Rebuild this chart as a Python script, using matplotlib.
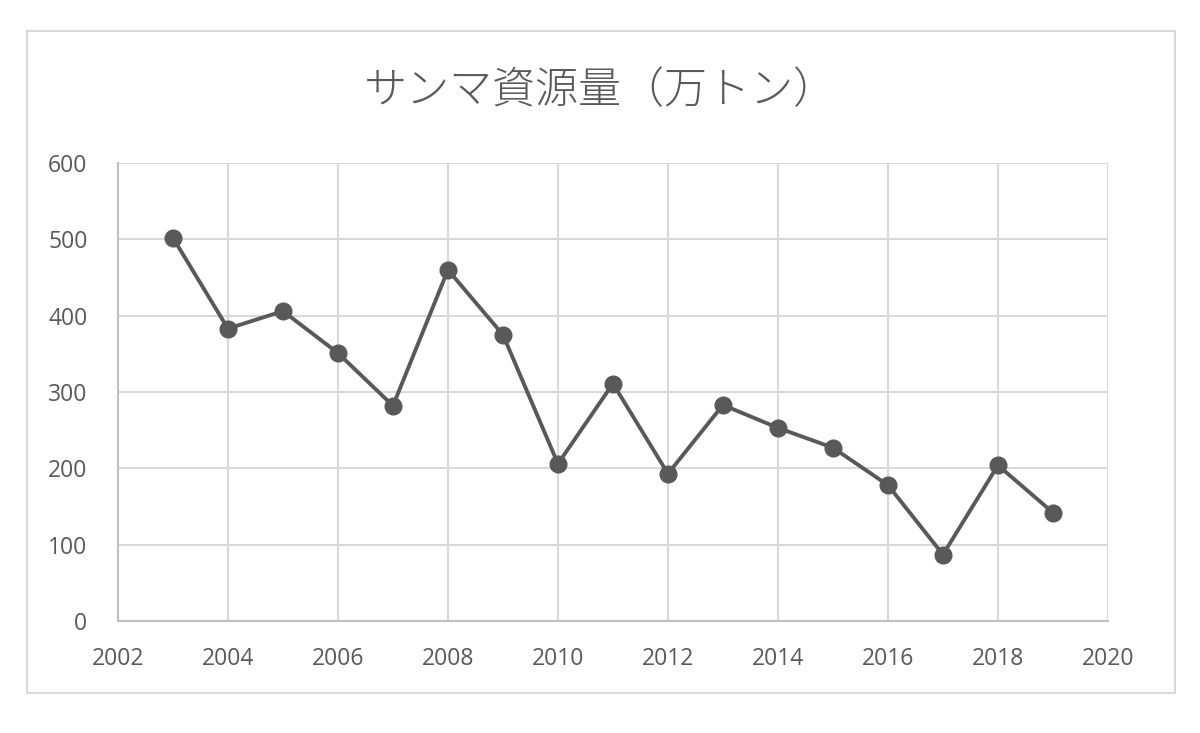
import matplotlib
matplotlib.use("Agg")
import matplotlib.pyplot as plt
from matplotlib.patches import Rectangle

# サンマ資源量 (万トン)
years = [2003, 2004, 2005, 2006, 2007, 2008, 2009, 2010, 2011,
         2012, 2013, 2014, 2015, 2016, 2017, 2018, 2019]
stock = [502, 383, 406, 351, 282, 460, 375, 206, 311,
         193, 283, 253, 227, 178, 87, 204, 142]
title = "サンマ資源量（万トン）"
xticks = list(range(2002, 2021, 2))
yticks = list(range(0, 601, 100))

plt.rcParams['font.family'] = ['Open Sans', 'Noto Sans CJK JP', 'DejaVu Sans']

fig = plt.figure(figsize=(12, 7.33), dpi=100)
fig.patches.append(Rectangle((0.0225, 0.0546), 0.957, 0.903, transform=fig.transFigure,
                             fill=False, edgecolor='#d9d9d9', linewidth=1.5))

ax = fig.add_axes([0.0983, 0.1528, 0.825, 0.6248])
ax.plot(years, stock, color='#595959', linewidth=2.8, marker='o', markersize=12,
        zorder=3)

ax.set_xlim(2002, 2020)
ax.set_ylim(0, 600)
ax.set_xticks(xticks)
ax.set_yticks(yticks)
ax.grid(True, color='#d9d9d9', linewidth=1.5)
ax.set_axisbelow(True)
for side in ['top', 'right']:
    ax.spines[side].set_visible(False)
for side in ['left', 'bottom']:
    ax.spines[side].set_color('#bfbfbf')
    ax.spines[side].set_linewidth(1.5)
ax.tick_params(length=0, labelsize=16.5, colors='#595959')
ax.tick_params(axis='x', pad=19)
ax.tick_params(axis='y', pad=22)

fig.text(0.5, 0.876, title, ha='center', va='center', fontsize=31, color='#595959',
         family=['Noto Sans CJK JP', 'DejaVu Sans'], fontweight='light')

fig.savefig("out.png", dpi=100)
